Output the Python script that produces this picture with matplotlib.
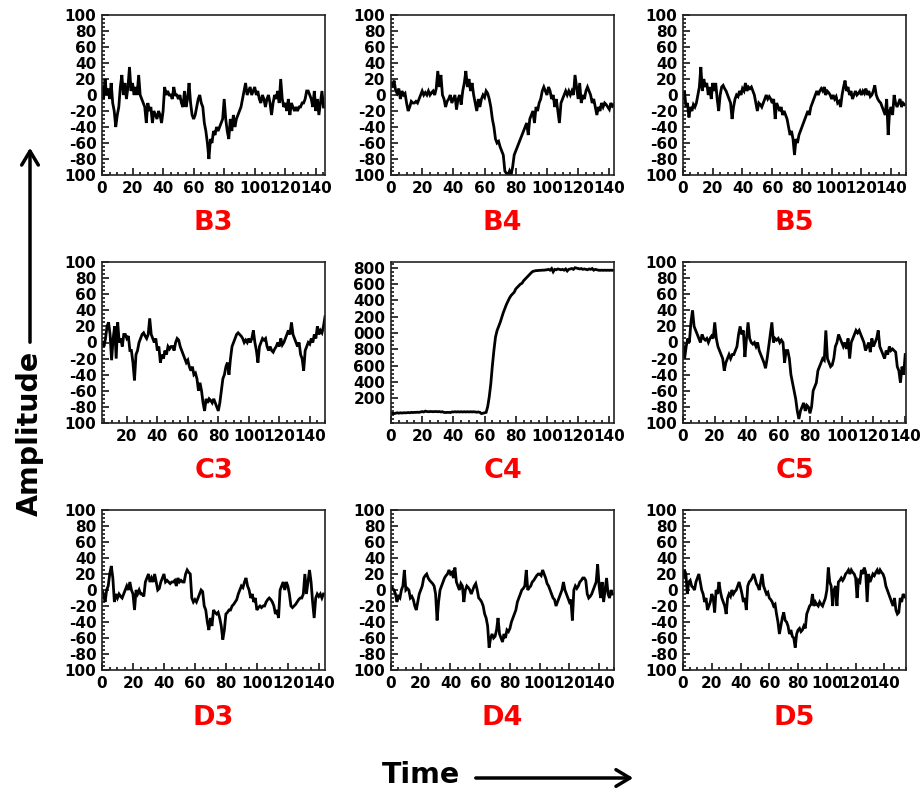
"""Nine amplitude-vs-time panels (B3..D5) in a 3x3 grid with shared axis captions."""

import matplotlib
matplotlib.use("Agg")
import matplotlib.pyplot as plt
import numpy as np
from matplotlib.patches import FancyArrowPatch
from matplotlib.ticker import AutoMinorLocator, FixedFormatter, FixedLocator


# ---- data (one sample per time unit) ----
PANEL_NAMES = ["B3", "B4", "B5", "C3", "C4", "C5", "D3", "D4", "D5"]

# time of first sample and visible time range for each panel
T_START = [0, 0, 0, 4, 0, 0, 0, 0, 0]
T_LIMITS = [(0, 146), (0, 143), (0, 150), (3.7, 150), (0, 143),
            (0, 140.5), (0, 144), (0, 150), (0, 155)]

B3 = [10, -5, 20, 0, 8, -5, 15, -10, -20, -40,
      -25, -15, 10, 25, 0, 15, -5, 10, 35, 5,
      15, 0, 10, 0, 25, 0, -5, -10, -15, -35,
      -10, -20, -15, -35, -20, -25, -30, -20, -25, -35,
      -20, 10, 0, 5, 0, 0, -5, 10, 0, 0,
      -5, 0, -10, -15, 5, -15, -5, 15, -10, -25,
      -30, -25, -15, -5, 0, -10, -15, -35, -45, -60,
      -80, -55, -60, -45, -50, -40, -45, -40, -35, -30,
      -5, -30, -45, -55, -30, -45, -25, -40, -30, -25,
      -20, -15, -5, 5, 15, 0, 5, 10, 0, 5,
      10, 0, 5, -5, -10, 0, -5, -15, -5, 0,
      -10, -25, -10, 0, -5, 5, -10, 20, -5, -15,
      -10, -20, -5, -25, -10, -15, -20, -15, -20, -15,
      -15, -10, -10, -5, 5, 5, 0, -5, -15, 5,
      -20, -5, -25, -10, 5, -15]

B4 = [15, 12, 18, 5, 2, 8, -5, 5, 0, 2,
      -10, -20, -15, -8, -10, -10, -8, -10, -5, 0,
      5, 0, 3, 0, 5, 0, 3, 5, 0, 8,
      30, 10, 25, 0, -5, -15, -8, -5, 0, -10,
      -5, 0, -18, -5, 0, -12, 5, 15, 30, 10,
      20, 5, 15, 0, -10, -20, -5, -15, -5, 0,
      -3, 5, 2, -5, -15, -30, -40, -55, -60, -58,
      -65, -70, -75, -95, -98, -100, -95, -100, -90, -75,
      -70, -65, -60, -55, -50, -45, -40, -35, -50, -30,
      -25, -20, -35, -15, -20, -10, -5, 5, 10, 5,
      0, 10, 5, -5, 0, -15, -5, -20, -35, -10,
      -5, 0, 5, 0, 5, 0, 5, 0, 25, 10,
      -5, 15, -10, 0, -5, 5, 10, 5, 0, -10,
      -5, -15, -25, -15, -20, -10, -15, -10, -12, -15,
      -18, -10, -14, -12]

B5 = [-5, 5, -15, -10, -28, -15, -20, -12, -15, -10,
      0, 10, 35, 5, 20, 10, 15, 0, 10, -5,
      15, 5, 15, -5, -20, 0, 10, 12, 8, 5,
      0, -5, -10, -30, -15, -5, 0, -2, 5, 0,
      8, 5, 15, 5, 10, 8, 10, 5, 0, -10,
      -20, -10, -12, -15, -10, -5, 0, -5, -2, -5,
      -10, -5, -30, -10, -15, -20, -15, -25, -20, -25,
      -30, -40, -50, -45, -55, -75, -55, -60, -50, -45,
      -40, -35, -30, -25, -20, -25, -15, -10, -5, 0,
      5, 0, 5, 8, 5, 10, 0, 5, 3, 0,
      -5, 0, -5, -2, -10, -8, -15, 0, 10, 18,
      5, 10, 0, 5, -5, 0, 5, 0, 2, 5,
      0, 5, 2, 8, 0, 5, -2, 0, 5, 12,
      0, -5, -8, -10, -15, -20, -25, -5, -50, -20,
      -15, -25, 0, -10, -15, -10, -5, -15, -10, -12]

C3 = [0, -5, 5, 20, 25, 10, -22, 5, 20, -20,
      25, 0, 5, -5, 10, 10, 5, 8, -10, -10,
      -25, -47, -15, -10, 0, 5, 10, 12, 8, 5,
      10, 30, 10, 5, 0, 5, -10, -5, -25, -15,
      -20, -10, -15, -5, -8, -5, -5, -10, 0, 5,
      3, -5, -10, -15, -20, -25, -22, -30, -35, -30,
      -40, -38, -45, -60, -50, -60, -75, -85, -70, -75,
      -70, -72, -75, -70, -75, -80, -85, -75, -60, -45,
      -40, -30, -25, -40, -20, -5, 0, 5, 10, 12,
      10, 8, 5, 0, 3, 0, 5, 0, 5, 15,
      0, -10, -25, -5, 0, 5, 3, 5, -5, -10,
      -5, -10, -12, -8, -5, 0, -5, 5, -3, 0,
      5, 10, 15, 10, 25, 10, 5, 0, -5, 0,
      -15, -20, -35, -10, -5, 0, -2, 5, 0, 10,
      5, 20, 10, 15, 12, 20, 32]

C4 = [10, 20, 15, 20, 25, 20, 25, 22, 25, 25,
      25, 28, 25, 30, 28, 30, 30, 32, 30, 35,
      40, 35, 45, 40, 38, 40, 40, 38, 40, 40,
      38, 40, 35, 38, 30, 28, 30, 30, 28, 35,
      35, 38, 35, 38, 35, 38, 35, 38, 35, 38,
      35, 38, 35, 38, 35, 32, 35, 30, 15, 20,
      25, 30, 100, 220, 380, 600, 790, 950, 1030, 1080,
      1130, 1190, 1250, 1300, 1350, 1390, 1430, 1460, 1480, 1500,
      1540, 1560, 1580, 1600, 1610, 1640, 1660, 1680, 1700, 1720,
      1740, 1755, 1760, 1765, 1765, 1768, 1768, 1770, 1770, 1772,
      1775, 1780, 1770, 1790, 1750, 1780, 1775, 1785, 1780, 1775,
      1780, 1770, 1785, 1760, 1780, 1785, 1790, 1780, 1800, 1795,
      1790, 1785, 1790, 1780, 1785, 1780, 1775, 1785, 1780, 1790,
      1770, 1780, 1775, 1770, 1768, 1770, 1768, 1770, 1768, 1770,
      1768, 1770, 1768, 1770]

C5 = [0, -20, -5, 5, 0, 25, 40, 20, 15, 10,
      5, 0, 10, 5, 3, 5, 0, 5, 8, 5,
      25, 5, -5, -10, -15, -20, -35, -25, -20, -15,
      -20, -15, -15, -10, -5, 10, 20, 10, 15, -18,
      5, 25, 5, 0, -2, 0, -5, 0, -10, -15,
      -20, -25, -32, -20, -5, 10, 25, 0, 5, 3,
      5, 0, 3, 0, -25, -10, -10, -20, -40, -50,
      -60, -70, -85, -95, -85, -80, -75, -85, -78, -80,
      -88, -80, -60, -55, -50, -35, -30, -25, -20, -22,
      15, -20, -25, -30, -28, -20, -5, 0, 10, 5,
      0, -5, 0, -8, 5, -20, 0, 5, 10, 15,
      12, 15, 10, 5, 0, -10, -5, 0, -12, 5,
      -5, 0, 5, 15, -5, -10, -15, -20, -10, -15,
      -5, -10, -8, -10, -12, -30, -35, -50, -30, -40,
      -15]

D3 = [0, -5, -15, 0, 5, 20, 30, 15, -15, -5,
      -10, -5, -8, -10, -5, 0, 5, 0, 10, 0,
      -5, -25, 0, -5, 0, -5, -5, -8, 10, 15,
      20, 10, 15, 10, 20, 10, 0, 2, 10, 15,
      20, 10, 12, 10, 8, 10, 10, 12, 5, 15,
      10, 12, 10, 10, 20, 25, 22, 20, -10, -15,
      -12, -15, -10, -5, 0, -2, -20, -25, -40, -50,
      -35, -45, -25, -28, -30, -28, -35, -45, -62, -50,
      -30, -28, -25, -25, -20, -18, -15, -12, -5, 0,
      5, 3, 10, 15, 5, 0, -10, -5, -15, -10,
      -25, -22, -20, -22, -20, -20, -15, -12, -10, -12,
      -15, -20, -30, -25, -35, 0, 5, 10, 0, 10,
      5, -5, -20, -22, -20, -18, -15, -12, -10, -10,
      -5, 20, -5, 10, 25, 10, -15, -35, -10, -5,
      -8, -5, -10, -5]

D4 = [5, 2, 0, -5, -15, -8, -10, 0, 5, 25,
      0, 2, 0, -10, -8, -12, -20, -25, -15, -5,
      0, 5, 15, 18, 20, 15, 12, 10, 8, 5,
      -5, -38, -15, 0, 5, 10, 15, 18, 20, 25,
      20, 22, 15, 28, 10, 5, 0, 8, 5, -15,
      0, 5, 3, 0, -5, 0, 5, 8, 0, -10,
      -12, -15, -20, -30, -35, -45, -72, -60, -55, -60,
      -58, -50, -35, -55, -60, -65, -55, -60, -50, -52,
      -48, -40, -35, -30, -25, -15, -10, -5, 0, 2,
      5, 25, 0, 3, 5, 10, 12, 15, 18, 20,
      20, 18, 25, 20, 15, 8, 5, 0, -5, -10,
      -12, -20, -15, -10, -5, 0, 10, 0, -5, -10,
      -15, -12, -38, 0, 5, 2, 5, 10, 12, 15,
      15, 12, -5, -10, -8, -5, 0, 5, 10, 32,
      5, -10, 10, -15, 0, 15, -5, -10, 0, -5]

D5 = [15, 25, 20, -5, 10, 12, 5, 3, 0, 10,
      15, 20, 10, 0, -5, -15, -10, -25, -20, -15,
      -5, -10, -28, 0, -5, 10, -2, -10, -15, -20,
      -30, -10, -5, -8, 0, -5, -2, 0, 5, 10,
      3, -5, -15, -10, -25, 5, 10, 12, 15, 20,
      15, 8, 5, 0, 10, 20, 5, 0, -5, -3,
      -10, -12, -15, -20, -18, -30, -40, -55, -45, -35,
      -28, -38, -40, -45, -55, -50, -58, -60, -72, -55,
      -50, -48, -52, -50, -45, -48, -30, -25, -20, -18,
      -5, -20, -15, -18, -20, -15, -18, -20, -15, -10,
      0, 28, 10, 5, -20, 0, 5, -20, 10, 12,
      15, 12, 15, 20, 22, 25, 20, 25, 22, 20,
      15, -10, 12, 10, 25, 20, 28, 22, -15, 20,
      10, 15, 20, 18, 22, 25, 20, 25, 22, 20,
      15, 5, 0, -5, -10, -15, -20, -10, -25, -30,
      -28, -10, -15, -5, -8, -10]

SERIES = [B3, B4, B5, C3, C4, C5, D3, D4, D5]

TIME_TICKS = [0, 20, 40, 60, 80, 100, 120, 140]
AMP_TICKS = [-100, -80, -60, -40, -20, 0, 20, 40, 60, 80, 100]
AMP_TICK_LABELS = ["100", "-80", "-60", "-40", "-20", "0", "20", "40", "60", "80", "100"]
C4_TICKS = [200, 400, 600, 800, 1000, 1200, 1400, 1600, 1800]
C4_TICK_LABELS = ["200", "400", "600", "800", "000", "200", "400", "600", "800"]
C4_LIMITS = (-100, 1870)


# ---- layout (pixels in the 922x796 canvas) ----
FIG_W, FIG_H = 922, 796
COL_EDGES = [(102, 325), (391, 614), (683, 906)]
ROW_EDGES = [(15, 175), (262, 423), (510, 670)]


def add_panel(fig, left, right, top, bottom):
    rect = [left / FIG_W, 1 - bottom / FIG_H, (right - left) / FIG_W, (bottom - top) / FIG_H]
    return fig.add_axes(rect)


def main():
    plt.rcParams["font.family"] = ["DejaVu Sans"]
    plt.rcParams["font.weight"] = "bold"

    fig = plt.figure(figsize=(FIG_W / 100, FIG_H / 100), dpi=100)

    for i, name in enumerate(PANEL_NAMES):
        r, c = divmod(i, 3)
        left, right = COL_EDGES[c]
        top, bottom = ROW_EDGES[r]
        ax = add_panel(fig, left, right, top, bottom)

        vals = np.array(SERIES[i], dtype=float)
        t = T_START[i] + np.arange(len(vals))
        ax.plot(t, vals, color="black", lw=2.0, solid_joinstyle="miter")

        ax.set_xlim(*T_LIMITS[i])
        ax.xaxis.set_major_locator(FixedLocator(TIME_TICKS))
        ax.xaxis.set_minor_locator(AutoMinorLocator(4))

        if name == "C4":
            ax.set_ylim(*C4_LIMITS)
            ax.yaxis.set_major_locator(FixedLocator(C4_TICKS))
            ax.yaxis.set_major_formatter(FixedFormatter(C4_TICK_LABELS))
        else:
            ax.set_ylim(-100, 100)
            ax.yaxis.set_major_locator(FixedLocator(AMP_TICKS))
            ax.yaxis.set_major_formatter(FixedFormatter(AMP_TICK_LABELS))
        ax.yaxis.set_minor_locator(AutoMinorLocator(4))

        ax.tick_params(which="both", direction="in", top=False, right=False,
                       labelsize=11, width=1.1, pad=4)
        ax.tick_params(which="major", length=5)
        ax.tick_params(which="minor", length=2.5)
        for lab in ax.get_xticklabels() + ax.get_yticklabels():
            lab.set_fontweight("bold")
        for sp in ax.spines.values():
            sp.set_linewidth(1.2)
            sp.set_color("#222222")

        # panel name under the axes
        fig.text((left + right) / 2 / FIG_W, 1 - (bottom + 48) / FIG_H, name,
                 color="#ff0000", fontsize=19.5, fontweight="bold",
                 ha="center", va="center")

    # shared captions with arrows
    fig.text(30 / FIG_W, 1 - 433 / FIG_H, "Amplitude", rotation=90,
             fontsize=20.5, fontweight="bold", ha="center", va="center")
    fig.add_artist(FancyArrowPatch((30 / FIG_W, 1 - 345 / FIG_H), (30 / FIG_W, 1 - 145 / FIG_H),
                                   transform=fig.transFigure, arrowstyle="->,head_length=0.5,head_width=0.3",
                                   mutation_scale=20, lw=2.5, color="black"))
    fig.text(421 / FIG_W, 1 - 775 / FIG_H, "Time",
             fontsize=20.5, fontweight="bold", ha="center", va="center")
    fig.add_artist(FancyArrowPatch((473 / FIG_W, 1 - 778 / FIG_H), (636 / FIG_W, 1 - 778 / FIG_H),
                                   transform=fig.transFigure, arrowstyle="->,head_length=0.5,head_width=0.3",
                                   mutation_scale=20, lw=2.5, color="black"))

    fig.savefig("out.png", dpi=100, facecolor="white")
    plt.close(fig)


if __name__ == "__main__":
    main()
